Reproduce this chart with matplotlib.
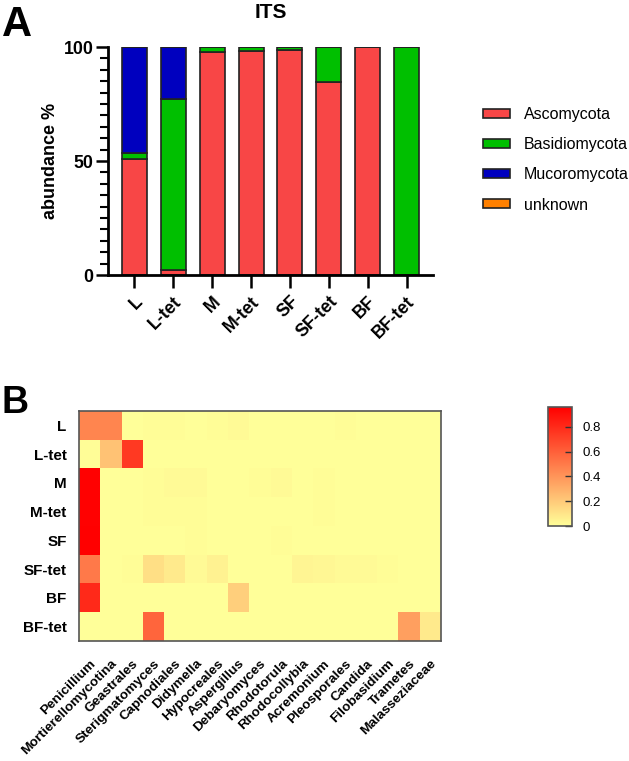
"""ITS phylum composition (A) and genus-level heatmap (B)."""

import numpy as np
import matplotlib
matplotlib.use("Agg")
import matplotlib.pyplot as plt
from matplotlib.colors import LinearSegmentedColormap
from matplotlib.ticker import MultipleLocator

plt.rcParams["font.family"] = ["Liberation Sans", "DejaVu Sans"]

# ── data ──
samples = ["L", "L-tet", "M", "M-tet", "SF", "SF-tet", "BF", "BF-tet"]
phyla = ["Ascomycota", "Basidiomycota", "Mucoromycota", "unknown"]
ascomycota = [51.0, 2.0, 98.0, 98.3, 98.5, 84.5, 100.0, 0.0]
basidiomycota = [2.5, 75.0, 2.0, 1.7, 1.5, 15.5, 0.0, 100.0]
mucoromycota = [46.5, 23.0, 0.0, 0.0, 0.0, 0.0, 0.0, 0.0]
unknown = [0.0, 0.0, 0.0, 0.0, 0.0, 0.0, 0.0, 0.0]

genera = ["Penicillium", "Mortierellomycotina", "Geastrales", "Sterigmatomyces",
          "Capnodiales", "Didymella", "Hypocreales", "Aspergillus",
          "Debaryomyces", "Rhodotorula", "Rhodocollybia", "Acremonium",
          "Pleosporales", "Candida", "Filobasidium", "Trametes", "Malasseziaceae"]
heat_L = [0.46, 0.46, 0.0, 0.01, 0.01, 0.0, 0.01, 0.02, 0.0, 0.0, 0.0, 0.0, 0.01, 0.0, 0.0, 0.0, 0.0]
heat_Ltet = [0.01, 0.23, 0.74, 0.0, 0.0, 0.0, 0.0, 0.0, 0.0, 0.0, 0.0, 0.0, 0.0, 0.0, 0.0, 0.0, 0.0]
heat_M = [0.95, 0.0, 0.0, 0.01, 0.02, 0.02, 0.0, 0.0, 0.01, 0.02, 0.0, 0.01, 0.0, 0.0, 0.0, 0.0, 0.0]
heat_Mtet = [0.95, 0.0, 0.0, 0.01, 0.01, 0.01, 0.0, 0.0, 0.0, 0.0, 0.0, 0.01, 0.0, 0.0, 0.0, 0.0, 0.0]
heat_SF = [0.96, 0.0, 0.0, 0.0, 0.0, 0.01, 0.0, 0.0, 0.0, 0.01, 0.0, 0.0, 0.0, 0.0, 0.0, 0.0, 0.0]
heat_SFtet = [0.50, 0.0, 0.01, 0.12, 0.08, 0.02, 0.05, 0.0, 0.0, 0.0, 0.04, 0.03, 0.02, 0.02, 0.01, 0.0, 0.0]
heat_BF = [0.80, 0.0, 0.0, 0.0, 0.0, 0.0, 0.0, 0.18, 0.0, 0.0, 0.0, 0.0, 0.0, 0.0, 0.0, 0.0, 0.0]
heat_BFtet = [0.0, 0.0, 0.0, 0.58, 0.0, 0.0, 0.0, 0.0, 0.0, 0.0, 0.0, 0.0, 0.0, 0.0, 0.0, 0.36, 0.08]

phylum_colors = ["#F84646", "#00BF00", "#0000BF", "#FF8000"]

fig = plt.figure(figsize=(6.29, 7.61), dpi=100)

# ── Panel A: stacked bars ──
ax = fig.add_axes([0.1717, 0.6386, 0.5167, 0.2996])
x = np.arange(len(samples))
bottom = np.zeros(len(samples))
for name, vals, col in zip(phyla, [ascomycota, basidiomycota, mucoromycota, unknown],
                           phylum_colors):
    vals = np.asarray(vals)
    ax.bar(x, vals, 0.64, bottom=bottom, color=col, edgecolor="#222222",
           linewidth=1.2, label=name)
    bottom += vals

ax.set_xlim(-0.68, 7.68)
ax.set_ylim(0, 100)
ax.yaxis.set_major_locator(MultipleLocator(50))
ax.yaxis.set_minor_locator(MultipleLocator(5))
ax.set_xticks(x)
ax.set_xticklabels(samples, rotation=45, ha="right", rotation_mode="anchor",
                   fontsize=12.8, fontweight="bold")
for lab in ax.get_yticklabels():
    lab.set_fontweight("bold")
ax.tick_params(axis="y", labelsize=12.8, width=1.8, length=9, pad=1.5)
ax.tick_params(axis="y", which="minor", width=1.5, length=6)
ax.tick_params(axis="x", width=1.8, length=9, pad=4)
for s in ("top", "right"):
    ax.spines[s].set_visible(False)
for s in ("left", "bottom"):
    ax.spines[s].set_linewidth(2)
ax.set_ylabel("abundance %", fontsize=13, fontweight="bold", labelpad=3)
ax.set_title("ITS", fontsize=15, fontweight="bold", pad=21)
ax.legend(loc="upper left", bbox_to_anchor=(1.11, 0.80), frameon=False,
          fontsize=11.5, handlelength=1.7, handleheight=0.5,
          labelspacing=0.95, handletextpad=0.85)
fig.text(0.003, 0.967, "A", fontsize=30, fontweight="bold", va="center")

# ── Panel B: heatmap ──
heat = np.array([heat_L, heat_Ltet, heat_M, heat_Mtet, heat_SF, heat_SFtet,
                 heat_BF, heat_BFtet])
cmap = LinearSegmentedColormap.from_list("yr", ["#FFFF99", "#FF0000"])
axh = fig.add_axes([0.1256, 0.1577, 0.5755, 0.3022])
im = axh.imshow(heat, cmap=cmap, vmin=0, vmax=0.96, aspect="auto",
                interpolation="nearest")
axh.set_xticks(np.arange(len(genera)))
axh.set_xticklabels(genera, rotation=45, ha="right", rotation_mode="anchor",
                    fontsize=9.7, fontweight="bold")
axh.set_yticks(np.arange(len(samples)))
axh.set_yticklabels(samples, fontsize=11, fontweight="bold")
axh.tick_params(length=0)
axh.tick_params(axis="x", pad=12)
axh.tick_params(axis="y", pad=9)
for s in axh.spines.values():
    s.set_color("#555555")
    s.set_linewidth(1.2)
fig.text(0.003, 0.4704, "B", fontsize=27, fontweight="bold", va="center")

cax = fig.add_axes([0.8712, 0.3088, 0.0382, 0.1564])
cb = fig.colorbar(im, cax=cax, ticks=[0, 0.2, 0.4, 0.6, 0.8])
cb.ax.set_yticklabels(["0", "0.2", "0.4", "0.6", "0.8"])
cb.ax.tick_params(direction="in", length=5, width=1, color="#333333",
                  labelsize=9.5, pad=7.5)
cb.outline.set_edgecolor("#555555")
cb.outline.set_linewidth(1.2)

fig.savefig("out.png", dpi=100)
